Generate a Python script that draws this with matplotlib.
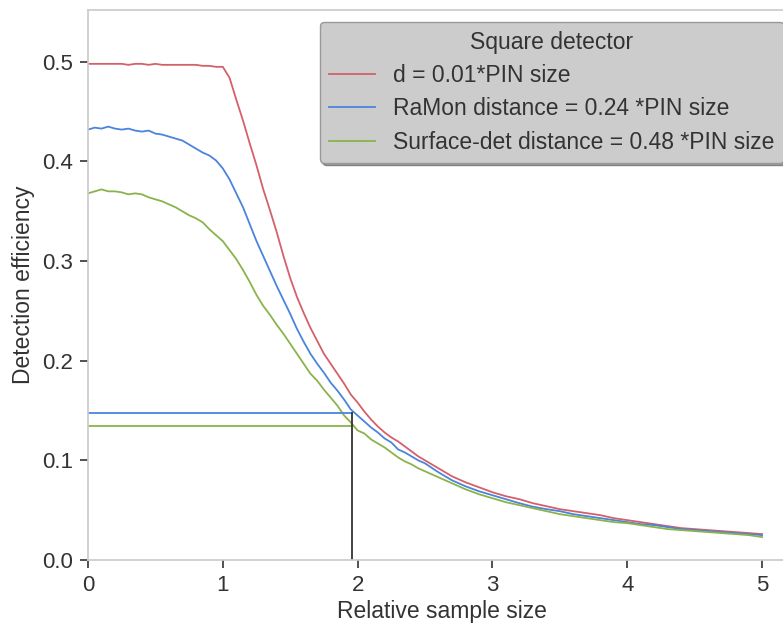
import matplotlib
matplotlib.use("Agg")
import matplotlib.pyplot as plt

# ---------------- data ----------------
x = [0.00, 0.05, 0.10, 0.15, 0.20, 0.25, 0.30, 0.35, 0.40, 0.45,
     0.50, 0.55, 0.60, 0.65, 0.70, 0.75, 0.80, 0.85, 0.90, 0.95,
     1.00, 1.05, 1.10, 1.15, 1.20, 1.25, 1.30, 1.35, 1.40, 1.45,
     1.50, 1.55, 1.60, 1.65, 1.70, 1.75, 1.80, 1.85, 1.90, 1.95,
     2.00, 2.05, 2.10, 2.15, 2.20, 2.25, 2.30, 2.35, 2.40, 2.45,
     2.50, 2.6, 2.7, 2.8, 2.9, 3.0, 3.1, 3.2, 3.3, 3.4,
     3.5, 3.6, 3.7, 3.8, 3.9, 4.0, 4.1, 4.2, 4.3, 4.4,
     4.5, 4.6, 4.7, 4.8, 4.9, 5.0]

red = [0.498, 0.498, 0.498, 0.498, 0.498, 0.498, 0.497, 0.498, 0.498, 0.497,
       0.498, 0.497, 0.497, 0.497, 0.497, 0.497, 0.497, 0.496, 0.496, 0.495,
       0.495, 0.484, 0.462, 0.441, 0.418, 0.396, 0.372, 0.351, 0.329, 0.305,
       0.283, 0.264, 0.248, 0.233, 0.220, 0.207, 0.197, 0.187, 0.177, 0.166,
       0.158, 0.149, 0.141, 0.134, 0.128, 0.123, 0.119, 0.114, 0.109, 0.104,
       0.100, 0.092, 0.084, 0.078, 0.073, 0.068, 0.064, 0.061, 0.057, 0.054,
       0.051, 0.049, 0.047, 0.045, 0.042, 0.040, 0.038, 0.036, 0.034, 0.032,
       0.031, 0.030, 0.029, 0.028, 0.027, 0.026]

blue = [0.432, 0.434, 0.433, 0.435, 0.433, 0.432, 0.433, 0.431, 0.430, 0.431,
        0.428, 0.427, 0.425, 0.423, 0.421, 0.417, 0.413, 0.409, 0.406, 0.401,
        0.393, 0.382, 0.368, 0.354, 0.337, 0.320, 0.305, 0.290, 0.275, 0.261,
        0.247, 0.232, 0.219, 0.207, 0.197, 0.188, 0.178, 0.170, 0.161, 0.151,
        0.145, 0.139, 0.133, 0.128, 0.122, 0.118, 0.111, 0.108, 0.104, 0.100,
        0.097, 0.088, 0.080, 0.074, 0.069, 0.065, 0.061, 0.057, 0.0535, 0.051,
        0.049, 0.046, 0.044, 0.042, 0.040, 0.038, 0.036, 0.035, 0.033, 0.031,
        0.030, 0.029, 0.028, 0.027, 0.026, 0.025]

green = [0.368, 0.370, 0.372, 0.370, 0.370, 0.369, 0.367, 0.368, 0.367, 0.364,
         0.362, 0.360, 0.357, 0.354, 0.350, 0.346, 0.343, 0.339, 0.332, 0.326,
         0.320, 0.311, 0.302, 0.291, 0.279, 0.266, 0.255, 0.246, 0.236, 0.227,
         0.217, 0.207, 0.197, 0.187, 0.180, 0.171, 0.163, 0.155, 0.145, 0.138,
         0.130, 0.127, 0.121, 0.117, 0.113, 0.108, 0.103, 0.099, 0.096, 0.092,
         0.089, 0.083, 0.077, 0.071, 0.066, 0.062, 0.058, 0.055, 0.052, 0.049,
         0.046, 0.044, 0.042, 0.040, 0.038, 0.037, 0.035, 0.033, 0.031, 0.030,
         0.029, 0.028, 0.027, 0.026, 0.025, 0.023]

labels = ["d = 0.01*PIN size",
          "RaMon distance = 0.24 *PIN size",
          "Surface-det distance = 0.48 *PIN size"]
legend_title = "Square detector"

cross_x = 1.956
blue_level = 0.148
green_level = 0.134

xticks = [0, 1, 2, 3, 4, 5]
yticks = [0.0, 0.1, 0.2, 0.3, 0.4, 0.5]

# ---------------- style ----------------
plt.rcParams['font.family'] = ['Liberation Sans', 'DejaVu Sans']
text_col = '#333333'
c_red = '#d4606a'
c_blue = '#4a84dc'
c_green = '#8ab34c'

fig = plt.figure(figsize=(7.83, 6.28), dpi=100)
ax = fig.add_axes([0.1124, 0.1083, 0.903, 0.8757])

lw = 1.3
ax.plot(x, red, color=c_red, lw=lw, label=labels[0])
ax.plot(x, blue, color=c_blue, lw=lw, label=labels[1])
ax.plot(x, green, color=c_green, lw=lw, label=labels[2])

ax.plot([0, cross_x], [blue_level, blue_level], color=c_blue, lw=lw)
ax.plot([0, cross_x], [green_level, green_level], color=c_green, lw=lw)
ax.plot([cross_x, cross_x], [0, blue_level], color='#333333', lw=lw)

ax.set_xlim(0, 5.245)
ax.set_ylim(0, 0.552)
ax.set_xticks(xticks)
ax.set_xticklabels([str(t) for t in xticks])
ax.set_yticks(yticks)
ax.set_yticklabels([f"{t:.1f}" for t in yticks])

for s in ['left', 'bottom', 'top', 'right']:
    ax.spines[s].set_color('#cccccc')
    ax.spines[s].set_linewidth(1.25)

ax.tick_params(axis='both', which='major', length=6, width=1.2,
               color='#333333', labelcolor=text_col, labelsize=16, pad=5)

ax.set_xlabel("Relative sample size", fontsize=16.5, color=text_col, labelpad=3)
ax.set_ylabel("Detection efficiency", fontsize=16.5, color=text_col, labelpad=5)

leg = ax.legend(title=legend_title, loc='upper right', fontsize=16.5,
                title_fontsize=16.5, frameon=True, fancybox=True, shadow=True,
                handlelength=2.0, borderaxespad=0.5, labelspacing=0.45,
                handletextpad=0.8)
leg.get_frame().set_facecolor('#cccccc')
leg.get_frame().set_edgecolor('#999999')
leg.get_frame().set_alpha(1.0)
for t in leg.get_texts():
    t.set_color(text_col)
leg.get_title().set_color(text_col)

fig.savefig("out.png", dpi=100)
